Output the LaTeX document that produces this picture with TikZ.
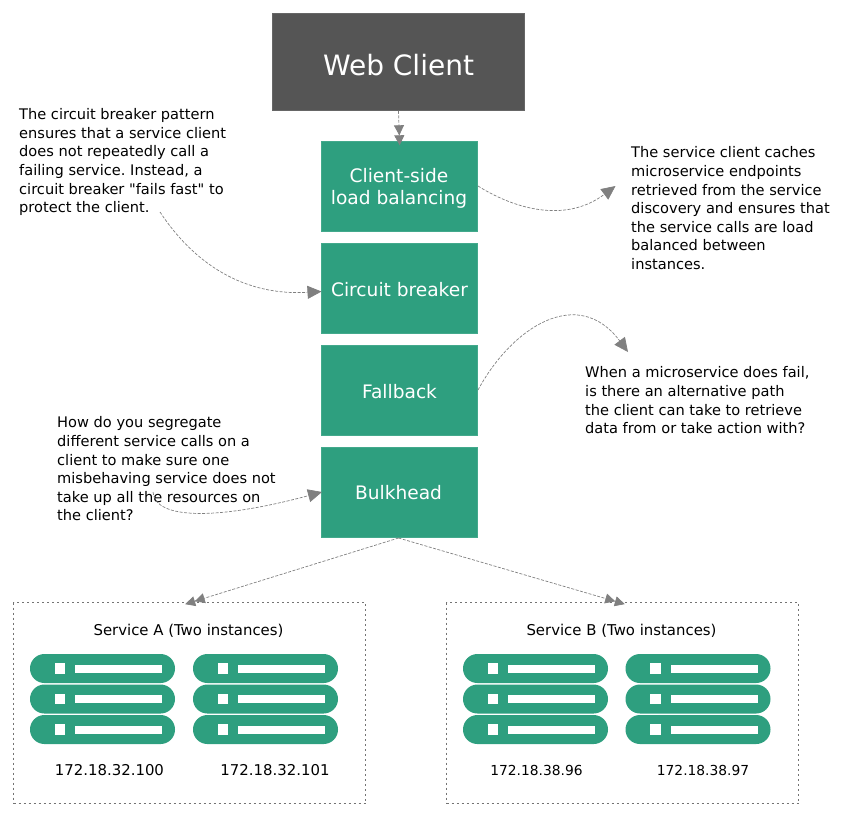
\documentclass[tikz,border=0pt]{standalone}
\usepackage{fontspec}
\setmainfont[Ligatures=TeXOff]{DejaVu Sans}
\usetikzlibrary{arrows.meta}
\definecolor{boxgreen}{HTML}{2E9F7F}
\definecolor{boxdark}{HTML}{555555}
\definecolor{conn}{HTML}{808080}
\tikzset{
  x=1pt,y=-1pt,
  webbox/.style={fill=boxdark,draw=boxdark!90!white,line width=.6pt,text=white,minimum width=252pt,minimum height=97pt,inner sep=0pt},
  webtext/.style={text=white,inner sep=0pt,font=\fontsize{28}{32}\selectfont},
  greenbox/.style={fill=boxgreen,draw=boxgreen!90!white,line width=.4pt,minimum width=156pt,minimum height=90pt,inner sep=0pt},
  greentext/.style={inner sep=0pt,text=white,align=center,font=\fontsize{18.6}{22}\selectfont},
  note/.style={anchor=north west,inner sep=0pt,align=left,font=\fontsize{14.6}{18.6}\selectfont\frenchspacing,text=black},
  label/.style={inner sep=0pt,font=\fontsize{14.9}{18}\selectfont,text=black},
  smalllabel/.style={inner sep=0pt,font=\fontsize{13.8}{18}\selectfont,text=black},
  svcbox/.style={draw=black!55,line width=.6pt,dash pattern=on 2pt off 3pt,minimum width=352pt,minimum height=201pt,inner sep=0pt},
  link/.style={draw=conn,line width=.7pt,dash pattern=on 3pt off 1.5pt},
  dbl/.style={link,-{Triangle[length=10pt,width=10pt,fill=conn]Triangle[length=10pt,width=10pt,fill=conn,sep=-4pt]}},
  sgl/.style={link,-{Triangle[length=14pt,width=13pt,fill=conn]}},
  pill/.style={fill=boxgreen,draw=none,rounded corners=14.4pt,minimum width=145pt,minimum height=29pt,inner sep=0pt},
  led/.style={fill=white,draw=none,minimum width=10.5pt,minimum height=10.5pt,inner sep=0pt},
  bar/.style={fill=white,draw=none,minimum width=87pt,minimum height=8pt,inner sep=0pt},
}
\newcommand{\serverunit}[2]{%
  \node[pill] (#2) at (#1) {};
  \node[led] (#2l) at ([xshift=-42.5pt]#2.center) {};
  \node[bar] (#2b) at ([xshift=16pt]#2.center) {};
}
\newcommand{\serverstack}[2]{%
  \serverunit{#1,668.5}{#2a}
  \serverunit{#1,699}{#2b}
  \serverunit{#1,729.5}{#2c}
}
\begin{document}
\begin{tikzpicture}
\useasboundingbox (0,0) rectangle (848,815);
\node[webbox] (web) at (398.5,62) {};
\node[webtext] (webt) at (398.5,65.5) {Web Client};
\node[greenbox] (clb) at (399.5,186.5) {};
\node[greentext] (clbt) at (399,188.5) {Client-side\\load balancing};
\node[greenbox] (cb) at (399.5,288.5) {};
\node[greentext] (cbt) at (399.5,290) {Circuit breaker};
\node[greenbox] (fb) at (399.5,390.5) {};
\node[greentext] (fbt) at (399.5,391.5) {Fallback};
\node[greenbox] (bh) at (399.5,492.5) {};
\node[greentext] (bht) at (398.5,492.5) {Bulkhead};

\node[note] (n1) at (19,108.5) {The circuit breaker pattern\\ensures that a service client\\does not repeatedly call a\\failing service. Instead, a\\circuit breaker "fails fast" to\\protect the client.};
\node[note] (n2) at (631,146.5) {The service client caches\\microservice endpoints\\retrieved from the service\\discovery and ensures that\\the service calls are load\\balanced between\\instances.};
\node[note] (n3) at (585,366.5) {When a microservice does fail,\\is there an alternative path\\the client can take to retrieve\\data from or take action with?};
\node[note] (n4) at (57,416.5) {How do you segregate\\different service calls on a\\client to make sure one\\misbehaving service does not\\take up all the resources on\\the client?};

\node[svcbox] (sa) at (189.5,703) {};
\node[svcbox] (sb) at (622.5,703) {};
\node[label] (sat) at (188.5,630.5) {Service A (Two instances)};
\node[label] (sbt) at (621.5,630.5) {Service B (Two instances)};
\serverstack{102.5}{aa}
\serverstack{265.5}{ab}
\serverstack{535.5}{ba}
\serverstack{698}{bb}
\node[label] (ip1) at (109.5,770.5) {172.18.32.100};
\node[label] (ip2) at (275,770.5) {172.18.32.101};
\node[smalllabel] (ip3) at (536.5,770.5) {172.18.38.96};
\node[smalllabel] (ip4) at (703,770.5) {172.18.38.97};

\coordinate (s1) at (160,212);
\coordinate (e1) at (321.5,291.5);
\coordinate (s2) at (478,186);
\coordinate (e2) at (615.5,186);
\coordinate (s3) at (478,390);
\coordinate (e3) at (628,352);
\coordinate (s4) at (153,492);
\coordinate (e4) at (322,492);
\coordinate (t1) at (189,603);
\coordinate (t2) at (621,603);
\coordinate (bhb) at (398.5,538);

\draw[dbl] (web.south) -- (clb.north);
\draw[sgl] (s1) .. controls (195,265) and (245,296) .. (e1);
\draw[sgl] (s2) .. controls (508,205) and (562,226) .. (e2);
\draw[sgl] (s3) .. controls (512,327) and (578,285) .. (e3);
\draw[sgl] (s4) .. controls (155,520) and (218,520) .. (e4);
\draw[dbl] (bhb) -- (t1);
\draw[dbl] (bhb) -- (t2);
\end{tikzpicture}
\end{document}
